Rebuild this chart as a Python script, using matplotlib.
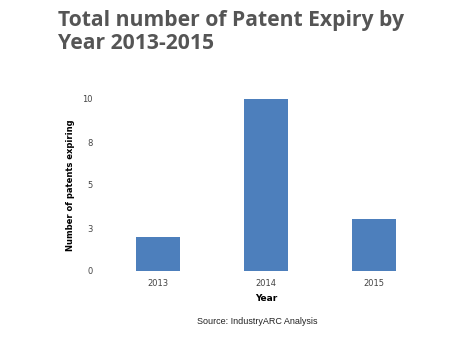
import matplotlib.pyplot as plt
import numpy as np

years = ['2013', '2014', '2015']
patents = [2, 10, 3]
yticks = [0, 2.5, 5, 7.5, 10]
ytick_labels = ['0', '3', '5', '8', '10']

fig = plt.figure(figsize=(4.66, 3.44), dpi=100)
ax = fig.add_axes([104 / 466, 1 - 271 / 344, 324 / 466, (271 - 99) / 344])

x = np.arange(len(years))
ax.bar(x, patents, width=0.4, color='#4d7fbc')
ax.set_xlim(-0.5, 2.5)
ax.set_ylim(0, 10)
ax.set_xticks(x)
ax.set_xticklabels(years, fontsize=6, color='#444444', family='DejaVu Sans')
ax.set_yticks(yticks)
ax.set_yticklabels(ytick_labels, fontsize=6, color='#444444', family='DejaVu Sans')
ax.tick_params(length=0)
ax.tick_params(axis='y', pad=8)
ax.tick_params(axis='x', pad=6)
for s in ax.spines.values():
    s.set_visible(False)

ax.set_xlabel('Year', fontsize=6.5, fontweight='bold', labelpad=4, family='DejaVu Sans')
ax.set_ylabel('Number of patents expiring', fontsize=6, fontweight='bold', labelpad=5,
              family='DejaVu Sans')

fig.text(58 / 466, 1 - 10 / 344, 'Total number of Patent Expiry by\nYear 2013-2015',
         fontsize=15.2, fontweight='bold', color='#555555', family='Open Sans',
         va='top', ha='left', linespacing=1.12)
fig.text(257 / 466, 1 - 322 / 344, 'Source: IndustryARC Analysis', fontsize=6.5,
         color='#222222', ha='center', va='center', family='Liberation Sans')

fig.savefig('out.png', dpi=100)
